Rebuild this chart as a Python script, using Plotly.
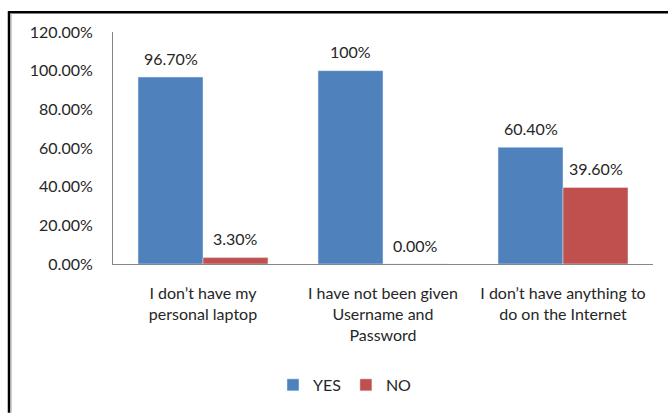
import plotly.graph_objects as go

categories = ["I don’t have my<br>personal laptop",
              "I have not been given<br>Username and<br>Password",
              "I don’t have anything to<br>do on the Internet"]
yes_values = [0.967, 1.00, 0.604]
no_values = [0.033, 0.0, 0.396]
yes_labels = ["96.70%", "100%", "60.40%"]
no_labels = ["3.30%", "0.00%", "39.60%"]
tick_vals = [0, 0.2, 0.4, 0.6, 0.8, 1.0, 1.2]
tick_text = ["0.00%", "20.00%", "40.00%", "60.00%", "80.00%", "100.00%", "120.00%"]

FONT = "Lato, 'Open Sans', sans-serif"
TXT = "#262626"
FS = 16

fig = go.Figure()
fig.add_trace(go.Bar(name="YES", x=categories, y=yes_values, marker_color="#4F81BD"))
fig.add_trace(go.Bar(name="NO", x=categories, y=no_values, marker_color="#C0504D"))

L, R, T, B = 113, 15, 32, 148
W, H = 668, 414
pw, ph = W - L - R, H - T - B

def px(x):
    return (x - L) / pw

def py(y):
    return (H - B - y) / ph

annotations = []
for cat, v, lab in zip(categories, yes_values, yes_labels):
    annotations.append(dict(x=cat, y=v, text=lab, showarrow=False, xshift=-32.5,
                            yshift=19, yanchor="middle", xanchor="center",
                            font=dict(size=FS, color=TXT, family=FONT)))
for cat, v, lab in zip(categories, no_values, no_labels):
    annotations.append(dict(x=cat, y=v, text=lab, showarrow=False, xshift=32.5,
                            yshift=19, yanchor="middle", xanchor="center",
                            font=dict(size=FS, color=TXT, family=FONT)))

fig.update_layout(
    width=W, height=H,
    margin=dict(l=L, r=R, t=T, b=B),
    paper_bgcolor="white", plot_bgcolor="white",
    barmode="group", bargap=0.278, bargroupgap=0,
    font=dict(family=FONT, size=FS, color=TXT),
    showlegend=True,
    legend=dict(orientation="h", x=px(345), y=py(388), xanchor="center", yanchor="middle",
                font=dict(size=FS, color=TXT, family=FONT), itemwidth=30,
                traceorder="normal"),
    xaxis=dict(showline=True, linecolor="#868686", linewidth=1, showgrid=False,
               ticks="", tickfont=dict(size=FS, color=TXT, family=FONT),
               ticklabelstandoff=15),
    yaxis=dict(range=[0, 1.2], tickvals=tick_vals, ticktext=tick_text,
               showline=True, linecolor="#868686", linewidth=1, showgrid=False,
               ticks="", zeroline=False, tickfont=dict(size=FS, color=TXT, family=FONT),
               ticklabelstandoff=16),
    annotations=annotations,
    shapes=[
        dict(type="line", xref="paper", yref="paper", x0=px(8), x1=px(670),
             y0=py(12), y1=py(12), line=dict(color="black", width=2.5)),
        dict(type="line", xref="paper", yref="paper", x0=px(9), x1=px(9),
             y0=py(11), y1=py(416), line=dict(color="black", width=2.5)),
        dict(type="line", xref="paper", yref="paper", x0=px(11), x1=px(11),
             y0=py(13), y1=py(416), line=dict(color="#a0a0a0", width=1)),
    ],
)

fig.write_html("out.html")
